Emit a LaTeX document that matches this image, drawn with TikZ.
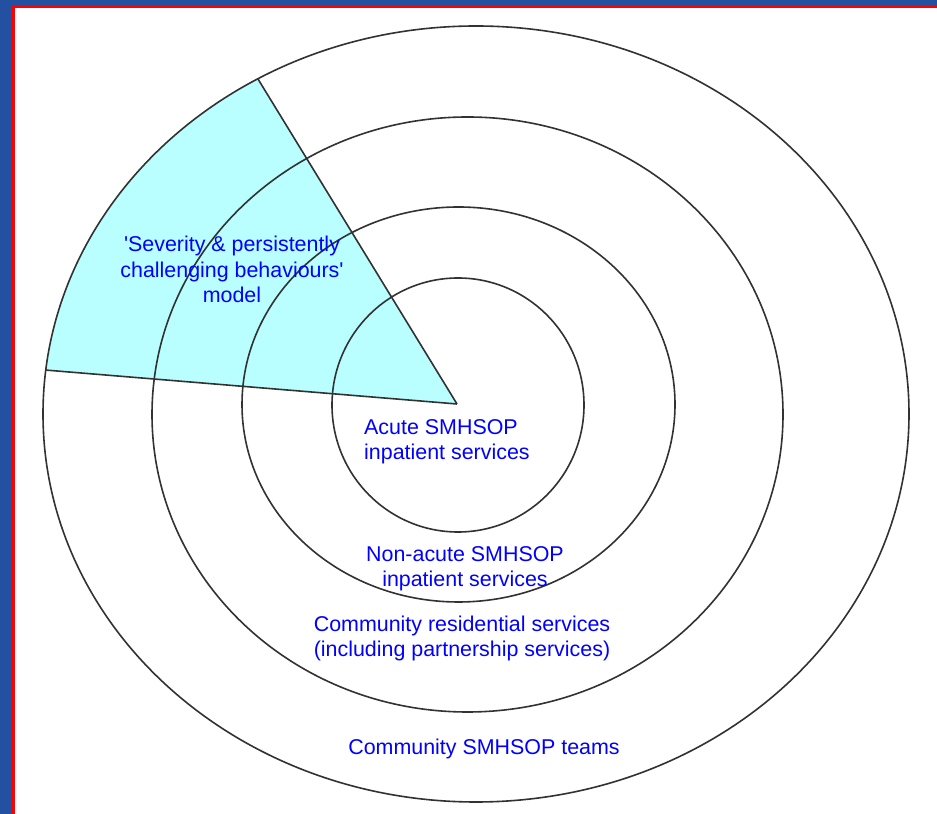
\documentclass[tikz,border=0pt]{standalone}
\usepackage{fontspec}
\setmainfont{Liberation Sans}
\definecolor{wedgecyan}{RGB}{185,255,255}
\definecolor{frameblue}{RGB}{35,80,160}
\definecolor{ringgray}{RGB}{50,50,50}
\definecolor{textblue}{RGB}{0,0,255}

\begin{document}
\begin{tikzpicture}[x=1bp,y=1bp,
    ring/.style={draw=ringgray,line width=1.6bp},
    ray/.style={draw=ringgray,line width=1.6bp},
    label text/.style={text=textblue,font=\fontsize{21.5}{26}\selectfont,inner sep=0pt,anchor=base}]
  \useasboundingbox (0,0) rectangle (937,814);
  \fill[white] (0,0) rectangle (937,814);
  % frame
  \fill[frameblue] (0,0) rectangle (12,814);
  \fill[frameblue] (0,809) rectangle (937,814);
  \fill[red] (12,0) rectangle (15,809);
  \fill[red] (12,806) rectangle (937,809);
  % model wedge
  \coordinate (apex) at (457,410);
  \coordinate (wl) at ([shift={(476,400)}]173.5:433 and 388);
  \coordinate (wt) at ([shift={(476,400)}]120.25:433 and 388);
  \fill[wedgecyan] (apex) -- (wl) arc[start angle=173.5,end angle=120.25,x radius=433,y radius=388] -- cycle;
  % rings, inner to outer
  \draw[ring] (458,409) ellipse [x radius=126,y radius=127];
  \draw[ring] (458.5,409.5) ellipse [x radius=216.5,y radius=197.5];
  \draw[ring] (467.5,399.5) ellipse [x radius=315.5,y radius=297.5];
  \draw[ring] (476,400) ellipse [x radius=433,y radius=388];
  \draw[ray] (apex) -- (wl);
  \draw[ray] (apex) -- (wt);
  % labels (base = last line)
  \node[label text,align=center] (sev) at (232,511) {\textquotesingle Severity \& persistently\\challenging behaviours\textquotesingle\\model};
  \node[label text,align=left,anchor=base west] (acute) at (364,354) {Acute SMHSOP\\inpatient services};
  \node[label text,align=center] (nonacute) at (465,227) {Non-acute SMHSOP\\inpatient services};
  \node[label text,align=center] (commres) at (462,157) {Community residential services\\(including partnership services)};
  \node[label text] (commteam) at (484,59) {Community SMHSOP teams};
\end{tikzpicture}
\end{document}
